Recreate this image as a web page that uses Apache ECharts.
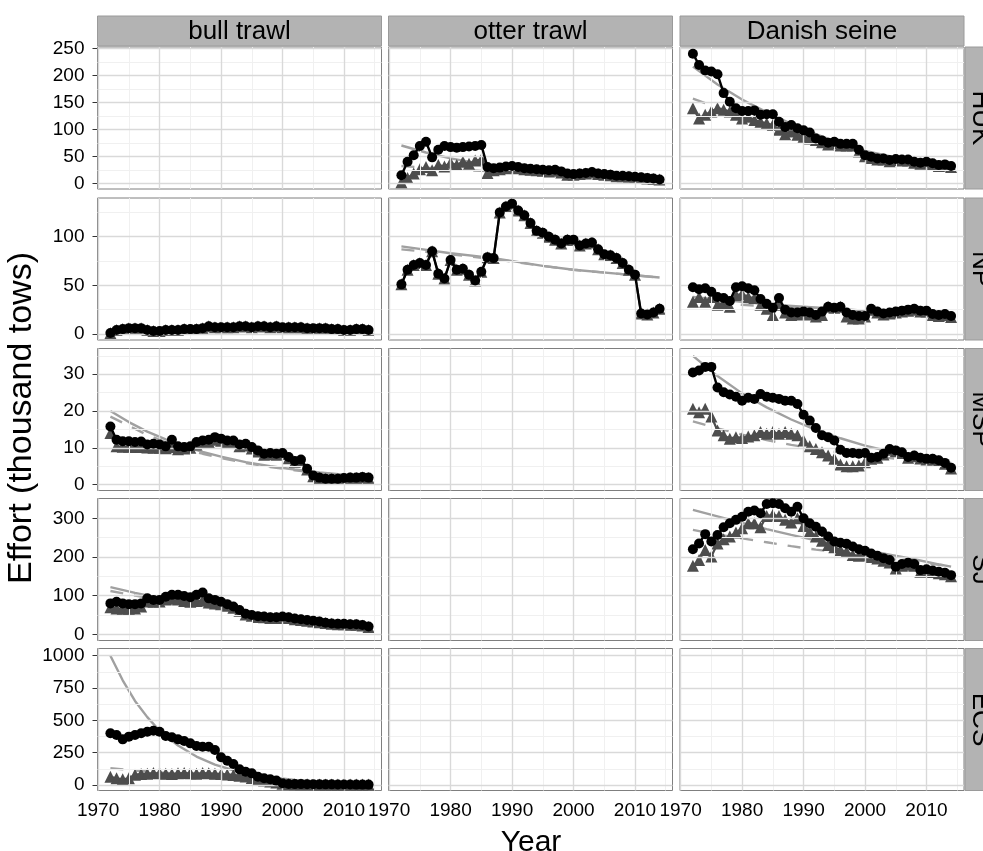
<!DOCTYPE html>
<html>
<head>
<meta charset="utf-8">
<script src="https://cdn.jsdelivr.net/npm/echarts@6/dist/echarts.min.js"></script>
<style>
html,body{margin:0;padding:0;background:#fff;}
#chart{width:983px;height:851px;}
</style>
</head>
<body>
<div id="chart"></div>
<script>
// ---------------- DATA ----------------
const years = [1972,1973,1974,1975,1976,1977,1978,1979,1980,1981,1982,1983,1984,1985,1986,1987,1988,1989,1990,1991,1992,1993,1994,1995,1996,1997,1998,1999,2000,2001,2002,2003,2004,2005,2006,2007,2008,2009,2010,2011,2012,2013,2014];

const gearLabels = ['bull trawl', 'otter trawl', 'Danish seine'];
const regionLabels = ['HUK', 'NP', 'MSP', 'SJ', 'ECS'];
const xTickLabels = [1970, 1980, 1990, 2000, 2010];
const xMinorBreaks = [1975, 1985, 1995, 2005, 2015];
const yTickLabels = [[0,50,100,150,200,250],[0,50,100],[0,10,20,30],[0,100,200,300],[0,250,500,750,1000]];
const yMinorBreaks = [[25,75,125,175,225],[25,75,125],[5,15,25,35],[50,150,250],[125,375,625,875]];

// HUK - otter trawl
const hukOtterNom = [15,40,52,69,77,48,62,69,67,66,67,68,69,71,30,28,29,31,32,30,28,27,26,25,24,25,22,18,17,18,19,21,18,17,16,14,14,13,12,11,10,9,7];
const hukOtterStd = [2,10,18,26,30,24,34,31,38,34,40,36,42,44,19,24,26,28,29,28,26,25,24,23,22,23,20,16,16,17,18,20,17,16,15,13,13,12,11,10,9,8,7];
const hukOtterSolidYears = [1972,1976,1980,1985,1990,1995,2000,2005,2010,2014];
const hukOtterSolid = [70,57,46,36,28,22,17,14,11,9];
const hukOtterDashYears = [1972,1976,1980,1985,1990,1995,2000,2005,2010,2014];
const hukOtterDash = [32,29,26,23,20,17,15,12,10,9];

// HUK - Danish seine
const hukDanishNom = [240,219,209,207,202,167,151,139,134,134,135,127,128,128,114,104,108,102,98,94,83,79,75,77,73,73,73,62,52,49,46,46,43,45,44,44,40,38,40,37,34,35,32];
const hukDanishStd = [139,120,127,133,139,136,133,127,120,123,117,114,111,108,99,91,96,90,86,83,80,76,72,74,70,70,70,59,50,47,44,44,41,43,42,42,38,36,38,35,32,33,30];
const hukDanishSolidYears = [1972,1976,1980,1985,1990,1995,2000,2005,2010,2014];
const hukDanishSolid = [216,183,155,126,100,78,60,48,40,35];
const hukDanishDashYears = [1972,1976,1980,1985,1990,1995,2000,2005,2010,2014];
const hukDanishDash = [157,140,124,105,88,72,56,46,39,33];

// NP - bull trawl
const npBullNom = [1,4,5,6,6,6,4,3,3,4,4,4,5,5,5,6,8,7,7,7,7,8,8,7,8,8,7,8,7,7,7,7,6,6,6,6,5,5,4,4,5,5,4];
const npBullStd = [1,4,5,6,6,6,4,3,3,4,4,4,5,5,5,6,8,7,7,7,7,8,8,7,8,8,7,8,7,7,7,7,6,6,6,6,5,5,4,4,5,5,4];

// NP - otter trawl
const npOtterNom = [51,66,71,73,71,85,62,57,76,66,67,61,55,64,79,78,125,131,134,127,122,114,106,104,100,97,93,97,97,91,93,94,87,82,81,78,73,66,61,21,20,22,26];
const npOtterStd = [51,66,71,73,71,85,62,57,76,66,67,61,55,64,79,78,125,131,134,127,122,114,106,104,100,97,93,97,97,91,93,94,87,82,81,78,73,66,61,21,20,22,26];
const npOtterSolidYears = [1972,1980,1987,1995,2000,2007,2014];
const npOtterSolid = [90,83,78,70,66,62,58];
const npOtterDashYears = [1972,1980,1987,1995,2000,2007,2014];
const npOtterDash = [87,82,77,70,66,62,58];

// NP - Danish seine
const npDanishNom = [48,46,47,43.5,38,37,34,48,49,47,45,36,31,27,37,25,22,22,23,22,19.5,23,28,27,28,22,19.5,18.5,18.5,26,23,21,22,23,24,25,26,24,24,20.5,19.5,20.5,18.5];
const npDanishStd = [33,38,33,38,30,31.5,28,40,41,38,37,30,26,19.5,30,22,19.5,20,21,20,18,19.5,28,27,28,18,16,16,18,25,22,20,21,22,23,24,25,23,23,19.5,18.5,19.5,17.5];
const npDanishSolidYears = [1972,1980,1985,1990,1995,2000,2007,2014];
const npDanishSolid = [38,33,30,28,26,24,22,20];
const npDanishDashYears = [1972,1980,1985,1990,1995,2000,2007,2014];
const npDanishDash = [34,30,28,26,24,22,21,19];

// MSP - bull trawl
const mspBullNom = [15.8,12.2,11.8,11.8,11.6,11.7,10.9,11.1,10.9,10.4,12.2,10.4,10.2,10.4,11.6,12,12.2,12.9,12.5,12,12,10.9,11.1,10.2,9.3,8.4,8.6,8.4,8.6,7.5,6.4,6.8,4.3,2.5,1.9,1.6,1.6,1.6,1.8,1.9,1.9,2.1,1.9];
const mspBullStd = [14,10.4,10.3,10.3,10.2,10.2,10.1,10.0,10.0,9.9,10.2,9.6,9.8,10.0,10.9,11.4,11.6,12.2,11.9,11.5,11.4,10.4,10.6,9.8,9.0,8.1,8.3,8.1,8.3,7.2,6.2,6.5,4.1,2.3,1.8,1.5,1.5,1.5,1.7,1.8,1.8,2.0,1.8];
const mspBullSolidYears = [1972,1975,1978,1981,1984,1987,1990,1994,1998,2002,2006,2010,2014];
const mspBullSolid = [20,17,14.4,12.3,10.4,8.9,7.6,6.1,5.0,4.1,3.3,2.7,2.2];
const mspBullDashYears = [1972,1975,1978,1981,1984,1987,1990,1994,1998,2002,2006,2010,2014];
const mspBullDash = [18.5,16,13.5,11.5,9.8,8.4,7.2,5.9,4.8,3.9,3.2,2.6,2.1];

// MSP - Danish seine
const mspDanishNom = [30.5,31,32,32,26.4,25.1,24.5,23.9,22.8,23.6,23.3,24.6,23.9,23.6,23.3,22.8,22.8,21.9,19,17.4,15.4,13.4,12.9,12,9.5,8.6,8.6,8.4,8.6,7.3,7.5,8.4,9.7,9.3,8.8,7.5,7.9,7.3,7,7,6.6,5.9,4.6];
const mspDanishStd = [20.6,19.7,20.6,18.5,14.7,13.4,12.5,12.9,12.7,13.1,13.4,14.3,13.8,14.3,13.8,14.3,13.8,13.4,12,10.4,9.7,8.8,7.9,7,5.5,5,5,5.2,6.1,7.0,7.3,8.2,9.5,9.1,8.6,7.3,7.7,7.1,6.8,6.8,6.4,5.7,4.4];
const mspDanishSolidYears = [1972,1976,1980,1984,1988,1992,1996,2000,2004,2008,2012,2014];
const mspDanishSolid = [35,29.5,24.8,21,17.7,14.9,12.6,10.6,9.0,7.6,6.4,5.9];
const mspDanishDashYears = [1972,1976,1980,1984,1988,1992,1996,2000,2004,2008,2012,2014];
const mspDanishDash = [17.2,15.3,13.6,12.1,10.8,9.7,8.7,7.9,7.2,6.6,6.1,5.8];

// SJ - bull trawl
const sjBullNom = [80,84,80,78,78,80,93,89,89,97,102,102,99,96,102,108,93,89,84,78,72,63,53,50,47,46,44,44,46,44,41,39,37,35,33,30,28,27,27,26,26,24,20];
const sjBullStd = [70,67,66,66,67,72,85,84,85,90,92,90,86,84,86,88,82,80,78,74,69,61,51,48,45,44,42,42,44,42,39,37,35,33,31,29,27,26,26,25,25,23,19];
const sjBullSolidYears = [1972,1976,1980,1984,1988,1992,1996,2000,2004,2008,2012,2014];
const sjBullSolid = [122,107,94,82,71,62,54,47,40,33,27,24];
const sjBullDashYears = [1972,1976,1980,1984,1988,1992,1996,2000,2004,2008,2012,2014];
const sjBullDash = [112,100,89,79,70,61,54,47,40,33,27,24];

// SJ - Danish seine
const sjDanishNom = [220,235,259,240,257,277,287,296,304,317,320,313,337,339,337,326,317,330,300,287,278,266,253,240,237,234,227,220,216,209,203,197,192,175,182,185,182,166,168,165,162,159,153];
const sjDanishStd = [177,192,218,201,235,246,253,263,274,287,287,277,306,309,306,296,289,300,280,266,253,242,231,225,218,214,205,203,205,200,196,190,186,170,177,180,177,162,164,161,158,155,150];
const sjDanishSolidYears = [1972,1976,1980,1984,1988,1992,1996,2000,2004,2008,2012,2014];
const sjDanishSolid = [322,305,288,272,257,243,230,218,206,194,181,175];
const sjDanishDashYears = [1972,1976,1980,1984,1988,1992,1996,2000,2004,2008,2012,2014];
const sjDanishDash = [270,258,248,238,228,219,211,203,195,187,180,176];

// ECS - bull trawl
const ecsBullNom = [400,387,353,374,387,400,412,420,412,379,369,353,340,322,302,296,296,271,214,188,162,121,103,90,64,52,44,34,13,8,7,7,6,6,5,5,5,4,4,4,3,3,3];
const ecsBullStd = [64,52,44,52,80,85,88,92,90,88,86,90,92,90,88,92,90,88,85,82,78,72,65,55,45,35,28,20,10,7,6,6,5,5,4,4,4,3,3,3,3,3,3];
const ecsBullSolidYears = [1972,1974,1976,1978,1980,1983,1986,1989,1992,1995,1998,2002,2006,2010,2014];
const ecsBullSolid = [1000,810,650,525,420,305,220,158,114,82,60,39,25,16,10];
const ecsBullDashYears = [1972,1976,1980,1985,1990,1995,2000,2005,2010,2014];
const ecsBullDash = [130,112,97,80,65,50,38,28,21,16];

// ---------------- LAYOUT ----------------
const colLeft = [97.5, 388.5, 680];
const panelW = 284;
const rowTop = [47, 198, 348.5, 498.5, 648.5];
const panelH = 142;
const xMin = 1969.9, xMax = 2016.1;
const yMin = [-10.6, -6.2, -1.6, -16, -42.5];
const yMax = [252.4, 139.8, 37.0, 351.2, 1055.7];

const panels = [
  {r:0,c:1,nom:hukOtterNom,std:hukOtterStd,solid:[hukOtterSolidYears,hukOtterSolid],dash:[hukOtterDashYears,hukOtterDash]},
  {r:0,c:2,nom:hukDanishNom,std:hukDanishStd,solid:[hukDanishSolidYears,hukDanishSolid],dash:[hukDanishDashYears,hukDanishDash]},
  {r:1,c:0,nom:npBullNom,std:npBullStd},
  {r:1,c:1,nom:npOtterNom,std:npOtterStd,solid:[npOtterSolidYears,npOtterSolid],dash:[npOtterDashYears,npOtterDash]},
  {r:1,c:2,nom:npDanishNom,std:npDanishStd,solid:[npDanishSolidYears,npDanishSolid],dash:[npDanishDashYears,npDanishDash]},
  {r:2,c:0,nom:mspBullNom,std:mspBullStd,solid:[mspBullSolidYears,mspBullSolid],dash:[mspBullDashYears,mspBullDash]},
  {r:2,c:2,nom:mspDanishNom,std:mspDanishStd,solid:[mspDanishSolidYears,mspDanishSolid],dash:[mspDanishDashYears,mspDanishDash]},
  {r:3,c:0,nom:sjBullNom,std:sjBullStd,solid:[sjBullSolidYears,sjBullSolid],dash:[sjBullDashYears,sjBullDash]},
  {r:3,c:2,nom:sjDanishNom,std:sjDanishStd,solid:[sjDanishSolidYears,sjDanishSolid],dash:[sjDanishDashYears,sjDanishDash]},
  {r:4,c:0,nom:ecsBullNom,std:ecsBullStd,solid:[ecsBullSolidYears,ecsBullSolid],dash:[ecsBullDashYears,ecsBullDash]}
];

const FONT = '"Liberation Sans", Arial, Helvetica, sans-serif';
const zip = (xs, ys) => xs.map((x, i) => [x, ys[i]]);

const grids = [], xAxes = [], yAxes = [], series = [];
for (let r = 0; r < 5; r++) {
  for (let c = 0; c < 3; c++) {
    const idx = r * 3 + c;
    grids.push({left: colLeft[c], top: rowTop[r], width: panelW, height: panelH,
      show: true, backgroundColor: '#ffffff', borderColor: '#7f7f7f', borderWidth: 1, containLabel: false});
    const bottom = r === 4, left = c === 0;
    xAxes.push({type: 'value', gridIndex: idx, min: xMin, max: xMax,
      axisLine: {show: false}, splitLine: {show: false},
      axisTick: {show: bottom, customValues: xTickLabels, length: 5, lineStyle: {color: '#333', width: 1}},
      axisLabel: {show: bottom, customValues: xTickLabels, color: '#000', fontSize: 19, fontFamily: FONT, margin: 11,
        formatter: v => String(v)}
    });
    yAxes.push({type: 'value', gridIndex: idx, min: yMin[r], max: yMax[r],
      axisLine: {show: false}, splitLine: {show: false},
      axisTick: {show: left, customValues: yTickLabels[r], length: 5, lineStyle: {color: '#333', width: 1}},
      axisLabel: {show: left, customValues: yTickLabels[r], color: '#000', fontSize: 19, fontFamily: FONT, margin: 13,
        formatter: v => String(v)}
    });
    const ml = [];
    xMinorBreaks.forEach(v => ml.push({xAxis: v, lineStyle: {color: '#f0f0f0', width: 1, type: 'solid'}}));
    yMinorBreaks[r].forEach(v => ml.push({yAxis: v, lineStyle: {color: '#f0f0f0', width: 1, type: 'solid'}}));
    xTickLabels.forEach(v => ml.push({xAxis: v, lineStyle: {color: '#d9d9d9', width: 1.4, type: 'solid'}}));
    yTickLabels[r].forEach(v => ml.push({yAxis: v, lineStyle: {color: '#d9d9d9', width: 1.4, type: 'solid'}}));
    series.push({type: 'line', xAxisIndex: idx, yAxisIndex: idx, data: [], z: 1, silent: true,
      markLine: {silent: true, symbol: ['none', 'none'], label: {show: false}, animation: false,
        emphasis: {disabled: true}, data: ml}});
  }
}

panels.forEach(p => {
  const idx = p.r * 3 + p.c;
  const base = {type: 'line', xAxisIndex: idx, yAxisIndex: idx, silent: true, animation: false, clip: true};
  if (p.solid) {
    series.push(Object.assign({}, base, {data: zip(p.solid[0], p.solid[1]), z: 2, showSymbol: false, symbol: 'none',
      lineStyle: {color: '#a0a0a0', width: 2.4}}));
  }
  if (p.dash) {
    series.push(Object.assign({}, base, {data: zip(p.dash[0], p.dash[1]), z: 3, showSymbol: false, symbol: 'none',
      lineStyle: {color: '#a3a3a3', width: 2.4, type: [13, 11]}}));
  }
  series.push(Object.assign({}, base, {data: zip(years, p.std), z: 4, symbol: 'triangle', symbolSize: 12, showSymbol: true,
    itemStyle: {color: '#4d4d4d'}, lineStyle: {color: '#4d4d4d', width: 2.2}}));
  series.push(Object.assign({}, base, {data: zip(years, p.nom), z: 5, symbol: 'circle', symbolSize: 10, showSymbol: true,
    itemStyle: {color: '#000000'}, lineStyle: {color: '#000000', width: 2.4}}));
});

const graphics = [];
for (let c = 0; c < 3; c++) {
  graphics.push({type: 'rect', shape: {x: colLeft[c], y: 16, width: panelW, height: 30},
    style: {fill: '#b3b3b3', stroke: '#9a9a9a', lineWidth: 1}, z: 10});
  graphics.push({type: 'text', x: colLeft[c] + panelW / 2, y: 31.5,
    style: {text: gearLabels[c], font: '26px ' + FONT, fill: '#000', align: 'center', verticalAlign: 'middle'}, z: 11});
}
for (let r = 0; r < 5; r++) {
  graphics.push({type: 'rect', shape: {x: 965, y: rowTop[r], width: 30, height: panelH},
    style: {fill: '#b3b3b3', stroke: '#9a9a9a', lineWidth: 1}, z: 10});
  graphics.push({type: 'text', x: 980, y: rowTop[r] + panelH / 2, rotation: -Math.PI / 2,
    style: {text: regionLabels[r], font: '26px ' + FONT, fill: '#000', align: 'center', verticalAlign: 'middle'}, z: 11});
}
graphics.push({type: 'text', x: 22, y: 418, rotation: Math.PI / 2,
  style: {text: 'Effort (thousand tows)', font: '34px ' + FONT, fill: '#000', align: 'center', verticalAlign: 'middle'}, z: 11});
graphics.push({type: 'text', x: 531, y: 843,
  style: {text: 'Year', font: '30px ' + FONT, fill: '#000', align: 'center', verticalAlign: 'middle'}, z: 11});

const chart = echarts.init(document.getElementById('chart'), null, {renderer: 'canvas', width: 983, height: 851});
chart.setOption({
  backgroundColor: '#ffffff',
  animation: false,
  grid: grids,
  xAxis: xAxes,
  yAxis: yAxes,
  series: series,
  graphic: graphics
});
</script>
</body>
</html>
